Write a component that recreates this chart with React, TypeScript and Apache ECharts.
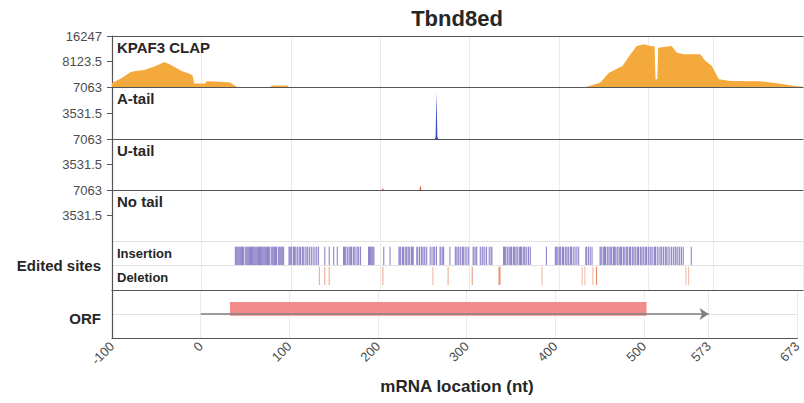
import React, { useEffect, useRef } from 'react';
import * as echarts from 'echarts';

// ---------- data ----------
const chartTitle = 'Tbnd8ed';
const xAxisTitle = 'mRNA location (nt)';
const xRange = [-100, 673];
const xTickValues = [-100, 0, 100, 200, 300, 400, 500, 573, 673];

const panelNames = ['KPAF3 CLAP', 'A-tail', 'U-tail', 'No tail'];
const panelMax = [16247, 7063, 7063, 7063];

const clapCoverage: [number, number][] = [
  [-100, 1270], [-90, 2700], [-79, 4780], [-72, 5200], [-65, 5320], [-54, 6370],
  [-46, 7300], [-42, 7960], [-36, 7300], [-30, 6400], [-22, 5100], [-14, 4300],
  [-10, 3730], [-8, 1100], [4, 1080], [6, 1800], [20, 1650], [32, 1400], [36, 700],
  [40, 0], [77, 0], [79, 450], [96, 450], [98, 0], [430, 0], [446, 1370],
  [456, 4560], [471, 6690], [480, 10420], [487, 13060], [495, 13600], [502, 13060],
  [507, 13000], [508, 2450], [510, 2450], [511, 12520], [526, 13060], [532, 10930],
  [540, 10420], [558, 10420], [564, 8280], [571, 6690], [579, 2450], [592, 1910],
  [625, 1800], [640, 1370], [655, 700], [666, 220], [673, 100],
];
const aTailCoverage: [number, number][] = [
  [-100, 0], [261, 0], [262, 300], [263, 6400], [264, 300], [265, 0], [673, 0],
];
const uTailCoverage: [number, number][] = [
  [-100, 0], [202, 0], [203, 270], [204, 0], [244, 0], [245, 680], [246, 0], [673, 0],
];
const noTailCoverage: [number, number][] = [[-100, 0], [673, 0]];

const insertionSites = [
  38, 39, 40, 41, 42, 43, 44, 45, 46, 47, 49, 50, 51, 52, 53, 54, 55, 56, 57, 58, 59, 60,
  61, 62, 63, 64, 65, 66, 67, 68, 69, 70, 71, 72, 73, 74, 75, 76, 78, 79, 80, 81, 82, 83, 84,
  86, 87, 88, 89, 90, 91, 92,
  98, 99, 100, 101, 103, 104, 105, 107, 108, 110, 111, 113, 114, 116, 118, 119, 121, 123,
  125, 127, 129, 131,
  138, 143, 148, 152,
  159, 160, 161, 163, 164, 166, 167, 168, 170, 171, 173, 175, 176, 178,
  187, 188, 189, 190, 191, 192, 193,
  204, 211,
  221, 222, 223, 225, 226, 228, 229, 230, 232, 233, 235, 236, 237,
  241, 242, 244, 246, 247, 249, 250, 252,
  256, 258, 260, 261, 263,
  267, 268, 270, 271,
  278,
  284, 285, 287, 288, 290, 292, 293, 295, 297, 299,
  304, 305, 307, 308, 312, 314, 315, 317, 319, 322, 324, 325,
  338, 339, 340, 342, 343, 345, 346, 347, 349, 350, 351, 353, 354, 356, 357, 358, 360, 361, 362,
  364, 366, 368,
  386,
  396, 397, 398, 400, 401, 402, 404, 405, 407, 408, 410, 411, 413, 414, 416, 418, 420, 422,
  430, 431, 433, 435, 437,
  446, 447, 448, 450, 451, 452, 454, 455, 457, 458, 459, 461, 462, 463, 465, 466, 468, 469,
  470, 472, 473, 475, 476, 477, 479, 480, 482, 483, 485, 486, 488, 489, 491, 492, 494, 495,
  497, 498, 500, 502, 503, 505, 507, 508, 510, 512, 514, 515, 517, 519, 520, 522, 524, 526,
  528, 530, 531, 533, 535, 537, 539,
  548,
];
// [position, relative strength]
const deletionSites: [number, number][] = [
  [132, 0.7], [138, 0.7], [143, 0.7], [203, 0.7], [259, 0.6], [276, 0.7], [303, 0.85],
  [333, 1], [334, 1], [381, 0.6], [426, 0.55], [429, 0.55], [438, 0.6], [442, 1],
  [542, 0.55], [545, 0.55],
];

const orfRange: [number, number] = [33, 503];
const transcriptRange: [number, number] = [0, 573];

// ---------- layout / style ----------
const GRID_LEFT = 112;
const GRID_RIGHT = 1;
const grids = [
  { top: 36, height: 51 },
  { top: 87, height: 52 },
  { top: 139, height: 51 },
  { top: 190, height: 51 },
  { top: 241, height: 49 },
  { top: 290, height: 48 },
];
const panelColors = ['#f4a93d', '#3d4fc4', '#e0533a', '#888888'];
const FONT = "'Liberation Sans', Arial, Helvetica, sans-serif";
const DARK = '#555555';
const GRIDLINE = '#ebebeb';

function buildOption(): echarts.EChartsOption {
  const coverages = [clapCoverage, aTailCoverage, uTailCoverage, noTailCoverage];

  const gridOpts = grids.map((g) => ({
    left: GRID_LEFT,
    right: GRID_RIGHT,
    top: g.top,
    height: g.height,
    containLabel: false,
  }));

  const xAxes: any[] = grids.map((_, i) => ({
    type: 'value',
    gridIndex: i,
    min: xRange[0],
    max: xRange[1],
    position: 'bottom',
    axisLine: { show: i !== 3, onZero: false, lineStyle: { color: DARK, width: 1.2 } },
    axisTick: { show: false, customValues: xTickValues },
    axisLabel: {
      show: i === grids.length - 1,
      customValues: xTickValues,
      rotate: 45,
      margin: 6,
      fontSize: 13,
      fontFamily: FONT,
      color: '#4d4d4d',
    },
    splitLine: { show: true, lineStyle: { color: GRIDLINE, width: 1 } },
  }));
  // top border of the first panel
  xAxes.push({
    type: 'value',
    gridIndex: 0,
    min: xRange[0],
    max: xRange[1],
    position: 'top',
    axisLine: { show: true, onZero: false, lineStyle: { color: DARK, width: 1.2 } },
    axisTick: { show: false },
    axisLabel: { show: false },
    splitLine: { show: false },
  });

  const yAxes: any[] = [];
  for (let i = 0; i < 4; i++) {
    const m = panelMax[i];
    yAxes.push({
      type: 'value',
      gridIndex: i,
      min: 0,
      max: m,
      position: 'left',
      axisLine: { show: true, onZero: false, lineStyle: { color: DARK, width: 1.2 } },
      axisTick: { show: true, length: 5, customValues: [m / 2, m], lineStyle: { color: DARK } },
      axisLabel: {
        customValues: [m / 2, m],
        formatter: (v: number) => String(v),
        fontSize: 13,
        fontFamily: FONT,
        color: '#4d4d4d',
        margin: 10,
      },
      splitLine: { show: false },
    });
  }
  yAxes.push({
    type: 'value',
    gridIndex: 4,
    min: 0,
    max: 2,
    interval: 1,
    position: 'left',
    axisLine: { show: true, onZero: false, lineStyle: { color: DARK, width: 1.2 } },
    axisTick: { show: false },
    axisLabel: { show: false },
    splitLine: { show: true, lineStyle: { color: '#e2e2e2' } },
  });
  yAxes.push({
    type: 'value',
    gridIndex: 5,
    min: -1,
    max: 1,
    interval: 1,
    position: 'left',
    axisLine: { show: true, onZero: false, lineStyle: { color: DARK, width: 1.2 } },
    axisTick: { show: false },
    axisLabel: { show: false },
    splitLine: { show: true, lineStyle: { color: '#e2e2e2' } },
  });

  const series: any[] = coverages.map((data, i) => ({
    type: 'line',
    xAxisIndex: i,
    yAxisIndex: i,
    data,
    symbol: 'none',
    showSymbol: false,
    lineStyle: { width: 0, color: panelColors[i] },
    areaStyle: { color: panelColors[i], opacity: 1 },
    z: 3,
  }));

  const siteData: [number, number, number][] = [
    ...insertionSites.map((p) => [p, 1, 0.95] as [number, number, number]),
    ...deletionSites.map(([p, s]) => [p, 0, s] as [number, number, number]),
  ];

  series.push({
    type: 'custom',
    xAxisIndex: 4,
    yAxisIndex: 4,
    data: siteData,
    renderItem: (params: any, api: any) => {
      const pos = api.value(0);
      const row = api.value(1);
      const strength = api.value(2);
      const lo = row === 1 ? 1.02 : 0.2;
      const hi = row === 1 ? 1.77 : 0.95;
      const a = api.coord([pos - 0.5, hi]);
      const b = api.coord([pos + 0.5, lo]);
      const w = Math.max(1.1, b[0] - a[0]);
      return {
        type: 'rect',
        shape: { x: (a[0] + b[0]) / 2 - w / 2, y: a[1], width: w, height: b[1] - a[1] },
        style: {
          fill: row === 1 ? '#8a80c6' : '#e0764f',
          opacity: row === 1 ? strength : strength * 0.85,
        },
      };
    },
    z: 3,
  });

  series.push({
    type: 'custom',
    xAxisIndex: 5,
    yAxisIndex: 5,
    data: [orfRange],
    renderItem: (params: any, api: any) => {
      const a = api.coord([api.value(0), 0.5]);
      const b = api.coord([api.value(1), -0.07]);
      return {
        type: 'rect',
        shape: { x: a[0], y: a[1], width: b[0] - a[0], height: b[1] - a[1] },
        style: { fill: '#f28b8b' },
      };
    },
    z: 3,
  });

  series.push({
    type: 'lines',
    coordinateSystem: 'cartesian2d',
    xAxisIndex: 5,
    yAxisIndex: 5,
    data: [{ coords: [[transcriptRange[0], 0], [transcriptRange[1], 0]] }],
    symbol: ['none', 'arrow'],
    symbolSize: 9,
    lineStyle: { color: '#7f7f7f', width: 1.6, opacity: 1, curveness: 0 },
    z: 5,
  });

  const boldText = (text: string, x: number, y: number, size: number, align: string, vAlign = 'middle') => ({
    type: 'text',
    x,
    y,
    style: {
      text,
      fill: '#262626',
      font: `bold ${size}px ${FONT}`,
      align,
      verticalAlign: vAlign,
    },
    z: 10,
  });

  const graphics: any[] = [
    boldText(chartTitle, 457, 18, 22, 'center'),
    boldText(xAxisTitle, 457, 386, 17, 'center'),
    boldText('Insertion', 117, 253, 13, 'left'),
    boldText('Deletion', 117, 277, 13, 'left'),
    boldText('Edited sites', 101, 265, 15, 'right'),
    boldText('ORF', 101, 318, 15, 'right'),
  ];
  panelNames.forEach((name, i) => {
    graphics.push(boldText(name, 117, grids[i].top + 11, 15, 'left'));
  });

  return {
    animation: false,
    backgroundColor: '#ffffff',
    grid: gridOpts,
    xAxis: xAxes,
    yAxis: yAxes,
    series,
    graphic: graphics,
  };
}

export default function App() {
  const ref = useRef<HTMLDivElement>(null);
  useEffect(() => {
    if (!ref.current) return;
    const chart = echarts.init(ref.current, undefined, { renderer: 'svg' });
    chart.setOption(buildOption());
    return () => chart.dispose();
  }, []);
  return (
    <div
      ref={ref}
      style={{ position: 'absolute', left: 0, top: 0, width: 804, height: 403, background: '#fff' }}
    />
  );
}
